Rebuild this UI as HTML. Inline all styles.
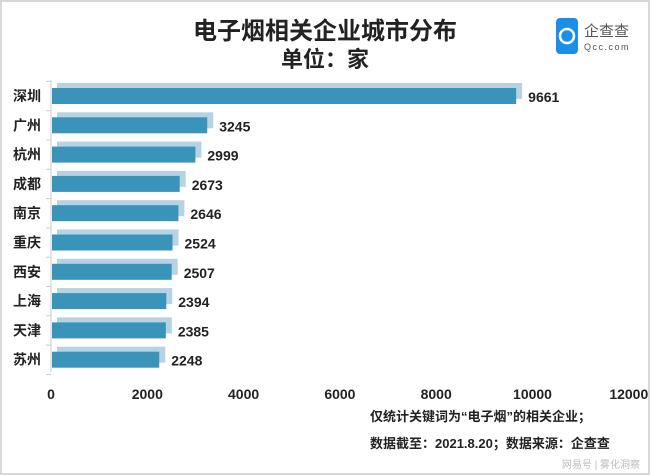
<!DOCTYPE html>
<html><head><meta charset="utf-8"><style>
body{margin:0;background:#fff;}
svg{display:block;font-family:"Liberation Sans","Noto Sans CJK SC",sans-serif;}
</style></head><body>
<svg width="650" height="475">
<rect x="1" y="1" width="648" height="473" fill="#fff" stroke="#d8d8d8" stroke-width="2"/>
<text x="325" y="39" text-anchor="middle" font-size="24" font-weight="bold" fill="#222">电子烟相关企业城市分布</text>
<text x="325" y="67" text-anchor="middle" font-size="22" font-weight="bold" fill="#222">单位：家</text>
<g>
<rect x="556" y="18" width="22" height="36" rx="4" fill="#1b8fe8"/>
<circle cx="567" cy="36" r="7" fill="none" stroke="#fff" stroke-width="2.5"/>
<text x="584" y="36" font-size="15" fill="#555">企查查</text>
<text x="584" y="50" font-size="9" fill="#555" letter-spacing="1.5">Qcc.com</text>
</g>
<line x1="51" y1="80" x2="51" y2="372" stroke="#ccc"/>
<g id="bars"></g>
<g id="xt"></g>
<text x="370" y="421" font-size="13" font-weight="bold" fill="#222">仅统计关键词为“电子烟”的相关企业；</text>
<text x="370" y="448" font-size="13" font-weight="bold" fill="#222">数据截至：2021.8.20；数据来源：企查查</text>
<text x="640" y="468" text-anchor="end" font-size="10" fill="#bbb">网易号 | 雾化洞察</text>
</svg>
<script>
const cities=["深圳","广州","杭州","成都","南京","重庆","西安","上海","天津","苏州"];
const values=[9661,3245,2999,2673,2646,2524,2507,2394,2385,2248];
const ticks=[0,2000,4000,6000,8000,10000,12000];
const NS="http://www.w3.org/2000/svg";
const x=v=>51+v*0.04815;
const yc=i=>96+i*29.3;
function mk(t,a,p){const e=document.createElementNS(NS,t);for(const k in a)e.setAttribute(k,a[k]);p.appendChild(e);return e;}
const g=document.getElementById('bars');
for(let i=0;i<=cities.length;i++){const tk=mk('line',{x1:46,x2:51,y1:yc(i)-14.6,y2:yc(i)-14.6,stroke:'#ccc'},g);

}
cities.forEach((c,i)=>{
 const y=yc(i);
 const sh=mk('rect',{x:57,y:y-13,width:x(values[i])-51,height:16,fill:'#b5d3e2'},g);
 
 
 const b=mk('rect',{x:52,y:y-8,width:x(values[i])-52,height:16,fill:'#3a93b8'},g);
 
 
 const l=mk('text',{x:13,y:y+5,'font-size':14,'font-weight':'bold',fill:'#222'},g);l.textContent=c;
 
 
 const v=mk('text',{x:x(values[i])+12,y:y+6,'font-size':14,'font-weight':'bold',fill:'#222'},g);v.textContent=values[i];
 
 
});
const xt=document.getElementById('xt');
ticks.forEach(t=>{const e=mk('text',{x:x(t),y:399,'text-anchor':'middle','font-size':14,'font-weight':'bold',fill:'#222'},xt);e.textContent=t;

});
</script>
</body></html>
